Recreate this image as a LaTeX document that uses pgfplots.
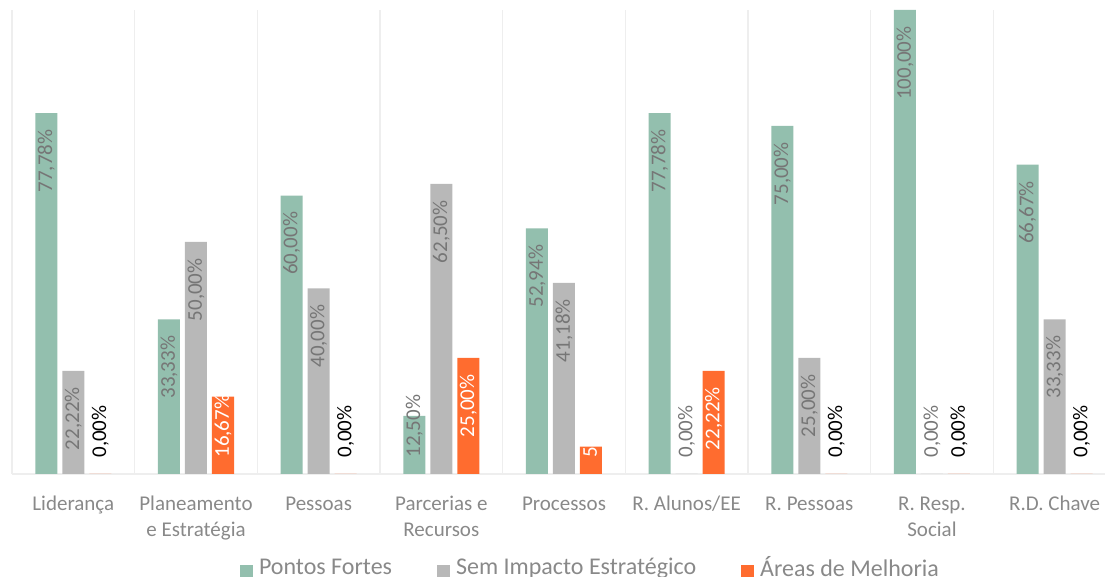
\documentclass[border=0pt]{standalone}
\usepackage{pgfplots}
\usepackage{pgfplotstable}
\pgfplotsset{compat=1.18}
\usepackage{fontspec}
\setmainfont{Carlito}
\definecolor{cgreen}{RGB}{147,191,174}
\definecolor{cgray}{RGB}{184,184,184}
\definecolor{corange}{RGB}{255,108,47}
\definecolor{lblgray}{RGB}{118,118,118}
\definecolor{tickgray}{RGB}{137,137,137}
\definecolor{gridgray}{RGB}{238,238,238}
\newcommand\tickfont{\fontsize{10.5}{13.25}\selectfont}
\newcommand\lblfont{\fontsize{10.5}{12.6}\selectfont}
\newcommand\legfont{\fontsize{12}{14}\selectfont}

% base: 1 = label at the foot of the bar, 0 = label inside the top end
% cc: 0 = grey text, 1 = white text, 2 = black text
\pgfplotstableread{
x y lab base cc
0 77.78 77,78 0 0
1 33.33 33,33 0 0
2 60.00 60,00 0 0
3 12.50 12,50 1 0
4 52.94 52,94 0 0
5 77.78 77,78 0 0
6 75.00 75,00 0 0
7 100.00 100,00 0 0
8 66.67 66,67 0 0
}\fortes
\pgfplotstableread{
x y lab base cc
0 22.22 22,22 0 0
1 50.00 50,00 0 0
2 40.00 40,00 0 0
3 62.50 62,50 0 0
4 41.18 41,18 0 0
5 0.00 0,00 1 0
6 25.00 25,00 0 0
7 0.00 0,00 1 0
8 33.33 33,33 0 0
}\semimpacto
\pgfplotstableread{
x y lab base cc
0 0.00 0,00 1 2
1 16.67 16,67 1 1
2 0.00 0,00 1 2
3 25.00 25,00 0 1
4 5.88 5,88 1 1
5 22.22 22,22 0 1
6 0.00 0,00 1 2
7 0.00 0,00 1 2
8 0.00 0,00 1 2
}\melhoria

\begin{document}
\begin{tikzpicture}
\begin{axis}[
  at={(6pt,51.5pt)}, anchor=south west,
  scale only axis, width=552pt, height=232pt,
  xmin=-0.5, xmax=8.5, ymin=0, ymax=100,
  ybar=2.5pt, bar width=11pt,
  axis y line=none, axis x line*=bottom,
  x axis line style={draw=gridgray, line width=0.6pt},
  ytick=\empty,
  xtick={0,...,8},
  xticklabels={Liderança, {Planeamento\\e Estratégia}, Pessoas, {Parcerias e\\Recursos}, Processos, R. Alunos/EE, R. Pessoas, {R. Resp.\\Social}, R.D. Chave},
  major tick length=0pt, minor tick length=0pt,
  minor xtick={-0.5,0.5,...,8.5},
  xminorgrids, minor grid style={draw=gridgray, line width=0.6pt},
  typeset ticklabels with strut,
  xticklabel style={font=\tickfont, text=tickgray, align=center, anchor=north, inner sep=0pt, yshift=-8.7pt},
  point meta=explicit symbolic,
  nodes near coords={\pgfplotspointmeta\%},
  visualization depends on={\thisrow{y} \as \rawy},
  visualization depends on={\thisrow{base} \as \isbase},
  visualization depends on={\thisrow{cc} \as \ccode},
  every node near coord/.append style={
    /utils/exec={%
      \pgfmathtruncatemacro\bb{\isbase}%
      \pgfmathtruncatemacro\cc{\ccode}%
      \ifnum\bb=1 \def\myanc{west}\else\def\myanc{east}\fi
      \ifcase\cc\def\mycol{lblgray}\or\def\mycol{white}\or\def\mycol{black}\fi},
    yshift={(\isbase*(8-2.32*\rawy)-(1-\isbase)*8)*1pt}, rotate=90, anchor=\myanc, inner sep=0pt, font=\lblfont, text=\mycol},
  legend columns=3,
  legend style={at={(0.5231,0)}, anchor=north, yshift=-41pt, draw=none, fill=none, inner sep=0pt, font=\legfont, text=tickgray,
    nodes={inner sep=0pt},
    /tikz/every odd column/.append style={column sep=3pt},
    /tikz/every even column/.append style={column sep=22.5pt}},
  legend image code/.code={\fill[#1] (0pt,-4.5pt) rectangle (6.5pt,1.5pt);},
]
\addplot[fill=cgreen, draw=none] table[x=x, y=y, meta=lab]{\fortes};
\addlegendentry{Pontos Fortes}
\addplot[fill=cgray, draw=none] table[x=x, y=y, meta=lab]{\semimpacto};
\addlegendentry{Sem Impacto Estratégico}
\addplot[fill=corange, draw=none] table[x=x, y=y, meta=lab]{\melhoria};
\addlegendentry{Áreas de Melhoria}
\end{axis}
\pgfresetboundingbox
\useasboundingbox (0,0) rectangle (552.5pt,288.5pt);
\end{tikzpicture}
\end{document}
